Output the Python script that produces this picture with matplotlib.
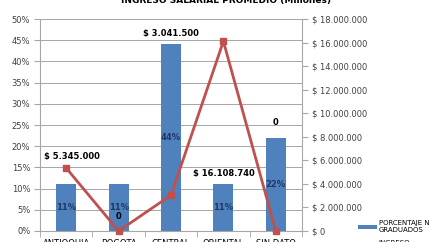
import matplotlib
matplotlib.use("Agg")
import matplotlib.pyplot as plt
from matplotlib.ticker import FuncFormatter

categories = ["ANTIOQUIA", "BOGOTA", "CENTRAL", "ORIENTAL", "SIN DATO"]
porcentaje = [11, 11, 44, 11, 22]
ingreso = [5345000, 0, 3041500, 16108740, 0]
ingreso_labels = ["$ 5.345.000", "0", "$ 3.041.500", "$ 16.108.740", "0"]
title = "INGRESO SALARIAL PROMEDIO (Millones)"

# label placement (right-axis units) as drawn in the reference
label_y = [6.3e6, 1.2e6, 16.8e6, 4.85e6, 9.2e6]
label_dx = [0.1, 0, 0, 0, 0]

BLUE = "#4F81BD"
RED = "#C0504D"
GRID = "#A6A6A6"
TXT = "#404040"

fig = plt.figure(figsize=(4.29, 2.42), dpi=100)
ax = fig.add_axes([40/429, 1-231/242, 262/429, 212/242])
x = list(range(len(categories)))
bars = ax.bar(x, porcentaje, width=0.38, color=BLUE, zorder=2)
ax.set_ylim(0, 50)
ax.set_xlim(-0.5, len(categories) - 0.5)
ax.set_yticks(range(0, 51, 5))
ax.yaxis.set_major_formatter(FuncFormatter(lambda v, p: f"{int(v)}%"))
ax.grid(axis="y", color=GRID, linewidth=0.7, zorder=0)
ax.set_xticks(x)
ax.set_xticklabels(categories)
ax.set_xticks([i - 0.5 for i in range(len(categories) + 1)], minor=True)
ax.tick_params(axis="x", which="major", length=0, labelsize=6, colors="black", pad=6)
ax.tick_params(axis="x", which="minor", length=4, color=GRID)
ax.tick_params(axis="y", length=4, color=GRID, labelsize=6, labelcolor=TXT, pad=3)
for s in ["top", "right"]:
    ax.spines[s].set_visible(False)
for s in ["left", "bottom"]:
    ax.spines[s].set_color(GRID)
    ax.spines[s].set_linewidth(0.8)

for xi, v in zip(x, porcentaje):
    ax.text(xi, v / 2, f"{v}%", ha="center", va="center", fontsize=6,
            fontweight="bold", color="#1F3864", zorder=4)

ax2 = ax.twinx()
ax2.set_ylim(0, 18000000)
ax2.set_yticks(range(0, 18000001, 2000000))
def money(v, p):
    v = int(round(v))
    if v == 0:
        return "$ 0"
    return "$ " + f"{v:,}".replace(",", ".")
ax2.yaxis.set_major_formatter(FuncFormatter(money))
ax2.tick_params(axis="y", length=4, color=GRID, labelsize=6, labelcolor=TXT, pad=3)
for s in ["top", "left", "bottom"]:
    ax2.spines[s].set_visible(False)
ax2.spines["right"].set_color(GRID)
ax2.spines["right"].set_linewidth(0.8)
line, = ax2.plot(x, ingreso, color=RED, linewidth=2, marker="s", markersize=5,
                 zorder=3, clip_on=False)
for xi, ly, dx, lab in zip(x, label_y, label_dx, ingreso_labels):
    ax2.text(xi + dx, ly, lab, ha="center", va="center", fontsize=6,
             fontweight="bold", color="black", zorder=5)

fig.text(226/429, 1 - 1/242, title, ha="center", va="center",
         fontsize=6.5, fontweight="bold", color="black")

fig.legend([bars, line], ["PORCENTAJE No\nGRADUADOS", "INGRESO\nSALARIAL"],
           loc="upper left", bbox_to_anchor=(355/429, 1-217/242),
           frameon=False, fontsize=5, handlelength=2.6, labelspacing=0.9,
           handletextpad=0.3, borderpad=0)

fig.savefig("out.png", dpi=100)
